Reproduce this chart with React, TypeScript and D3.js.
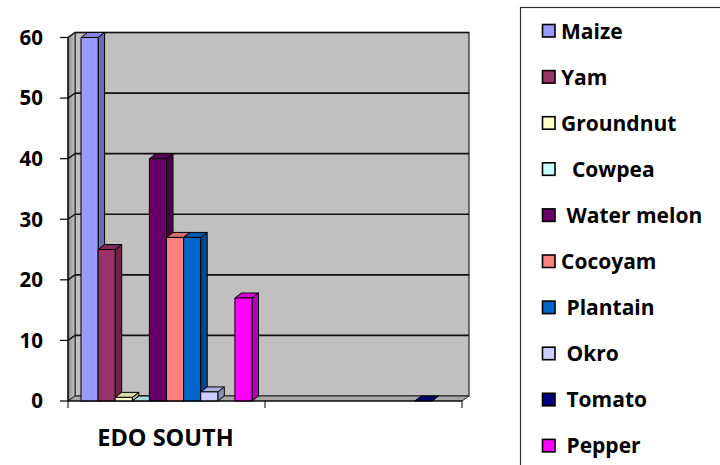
import React from "react";
import * as d3 from "d3";

// Crop survey shares by zone
const categories = ["EDO SOUTH", ""];
const seriesNames = ["Maize", "Yam", "Groundnut", "Cowpea", "Water melon", "Cocoyam", "Plantain", "Okro", "Tomato", "Pepper"];
const legendLabels = ["Maize", "Yam", "Groundnut", "  Cowpea", " Water melon", "Cocoyam", " Plantain", " Okro", " Tomato", " Pepper"];
const seriesColors = ["#9999FF", "#993366", "#FFFFCC", "#CCFFFF", "#660066", "#FF8080", "#0066CC", "#CCCCFF", "#000080", "#FF00FF"];
// values per series: [EDO SOUTH, second zone]; null = no bar
const seriesValues: (number | null)[][] = [
  [60, null],
  [25, null],
  [0.6, null],
  [0, null],
  [40, null],
  [27, null],
  [27, null],
  [1.5, null],
  [null, 0],
  [17, null],
];
const yTicks = [0, 10, 20, 30, 40, 50, 60];

const W = 720;
const H = 465;
const FONT = "'Open Sans', 'Liberation Sans', sans-serif";

// plot frame (front plane) and oblique depth
const left = 68;
const right = 462;
const bottom = 401;
const top = 37.5;
const depthX = 7;
const depthY = -5;

function shade(c: string, k: number) {
  const rgb = d3.rgb(c);
  return d3.rgb(rgb.r * k, rgb.g * k, rgb.b * k).formatHex();
}

export default function App() {
  const y = d3.scaleLinear().domain([0, 60]).range([bottom, top]);
  const x0 = d3.scaleBand<string>().domain(categories.map((c, i) => String(i))).range([left, right]).padding(0);
  const x1 = d3
    .scaleBand<string>()
    .domain(seriesNames)
    .range([0, x0.bandwidth()])
    .paddingInner(0)
    .paddingOuter(0.76);

  const bw = x1.bandwidth();
  const bdx = 6.5;
  const bdy = -5;

  const pts = (p: [number, number][]) => p.map((q) => q.join(",")).join(" ");

  // bars in drawing order: left to right so later fronts cover earlier sides
  const bars: { x: number; v: number; color: string; key: string }[] = [];
  categories.forEach((_, ci) => {
    seriesNames.forEach((s, si) => {
      const v = seriesValues[si][ci];
      if (v === null) return;
      bars.push({ x: (x0(String(ci)) as number) + (x1(s) as number), v, color: seriesColors[si], key: `${ci}-${si}` });
    });
  });

  return (
    <svg width={W} height={H} style={{ position: "absolute", left: 0, top: 0, background: "#fff" }}>
      <defs>
        <linearGradient id="sidewall" x1="0" x2="1" y1="0" y2="0">
          <stop offset="0" stopColor="#8a8a8a" />
          <stop offset="1" stopColor="#c8c8c8" />
        </linearGradient>
      </defs>

      {/* back wall */}
      <rect
        x={left + depthX}
        y={top + depthY}
        width={right - left}
        height={bottom - top}
        fill="#C0C0C0"
        stroke="#222"
        strokeWidth={1.2}
      />
      {/* side wall */}
      <polygon
        points={pts([
          [left, bottom],
          [left, top],
          [left + depthX, top + depthY],
          [left + depthX, bottom + depthY],
        ])}
        fill="url(#sidewall)"
        stroke="#222"
        strokeWidth={1}
      />
      {/* floor */}
      <polygon
        points={pts([
          [left, bottom],
          [left + depthX, bottom + depthY],
          [right + depthX, bottom + depthY],
          [right, bottom],
        ])}
        fill="#a8a8a8"
        stroke="#222"
        strokeWidth={1}
      />

      {/* gridlines on back and side walls */}
      {yTicks.filter((t) => t > 0).map((t) => (
        <g key={t}>
          <line x1={left + depthX} x2={right + depthX} y1={y(t) + depthY} y2={y(t) + depthY} stroke="#111" strokeWidth={1.6} />
          <line x1={left} x2={left + depthX} y1={y(t)} y2={y(t) + depthY} stroke="#111" strokeWidth={1.4} />
        </g>
      ))}

      {/* bars */}
      {bars.map((b) => {
        const yt = y(b.v);
        const x = b.x;
        return (
          <g key={b.key} stroke="#000" strokeWidth={1} strokeLinejoin="round">
            <polygon
              points={pts([
                [x + bw, bottom],
                [x + bw + bdx, bottom + bdy],
                [x + bw + bdx, yt + bdy],
                [x + bw, yt],
              ])}
              fill={shade(b.color, 0.7)}
            />
            <polygon
              points={pts([
                [x, yt],
                [x + bdx, yt + bdy],
                [x + bw + bdx, yt + bdy],
                [x + bw, yt],
              ])}
              fill={shade(b.color, 0.85)}
            />
            {bottom - yt > 0.5 && <rect x={x} y={yt} width={bw} height={bottom - yt} fill={b.color} />}
          </g>
        );
      })}

      {/* value axis */}
      <line x1={left} x2={left} y1={top} y2={bottom} stroke="#000" strokeWidth={1.2} />
      {yTicks.map((t) => (
        <g key={t}>
          <line x1={left - 8} x2={left} y1={y(t)} y2={y(t)} stroke="#000" strokeWidth={1.2} />
          <text
            x={43}
            y={y(t)}
            dy="0.36em"
            textAnchor="end"
            fontFamily={FONT}
            fontWeight={700}
            fontSize={20.5}
            fill="#000"
          >
            {t}
          </text>
        </g>
      ))}

      {/* category axis */}
      <line x1={left} x2={right} y1={bottom} y2={bottom} stroke="#000" strokeWidth={1.2} />
      {[left, ...categories.map((_, i) => (x0(String(i)) as number) + x0.bandwidth())].map((tx, i) => (
        <line key={i} x1={tx} x2={tx} y1={bottom} y2={bottom + 7} stroke="#000" strokeWidth={1} />
      ))}
      {categories.map((c, i) => (
        <text
          key={i}
          x={(x0(String(i)) as number) + x0.bandwidth() / 2 - 1}
          y={446}
          textAnchor="middle"
          fontFamily={FONT}
          fontWeight={700}
          fontSize={23.5}
          fill="#000"
        >
          {c}
        </text>
      ))}

      {/* legend */}
      <rect x={520.5} y={7.5} width={220} height={480} fill="#fff" stroke="#333" strokeWidth={1.2} />
      {legendLabels.map((l, i) => {
        const base = 38.5 + i * 46.1;
        return (
          <g key={i}>
            <rect x={542.5} y={base - 14} width={12.5} height={12.5} fill={seriesColors[i]} stroke="#000" strokeWidth={1.6} />
            <text
              x={561}
              y={base}
              fontFamily={FONT}
              fontWeight={700}
              fontSize={21}
              fill="#000"
              style={{ whiteSpace: "pre" }}
              xmlSpace="preserve"
            >
              {l}
            </text>
          </g>
        );
      })}
    </svg>
  );
}
